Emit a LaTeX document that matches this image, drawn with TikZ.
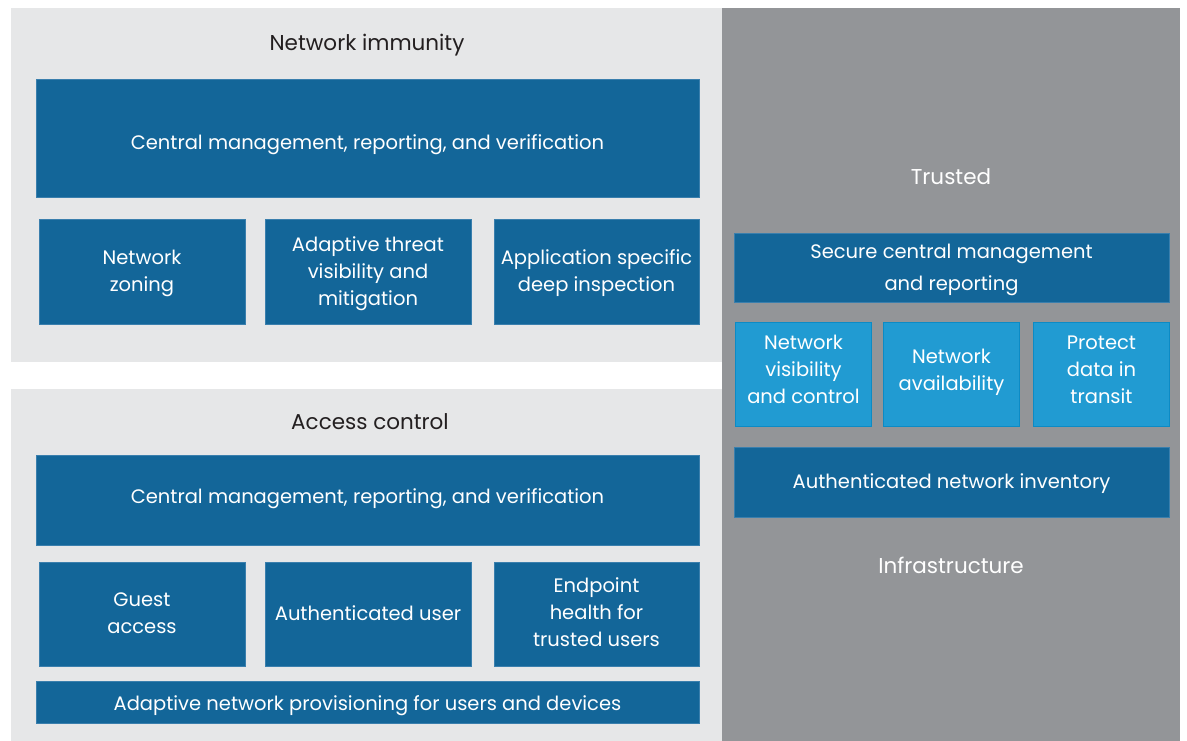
\documentclass[tikz,border=0pt]{standalone}
\usepackage{fontspec}
\setmainfont{Poppins}
\definecolor{panelL}{HTML}{E6E7E8}
\definecolor{panelD}{HTML}{939598}
\definecolor{dblue}{HTML}{136699}
\definecolor{dblueB}{HTML}{3A7FAD}
\definecolor{lblue}{HTML}{219BD2}
\definecolor{lblueB}{HTML}{0C8BC5}
\definecolor{ink}{HTML}{231F20}
\begin{document}
\begin{tikzpicture}[x=1pt,y=-1pt,
  panel/.style={draw=none,inner sep=0pt,outer sep=0pt},
  txt/.style={font=\fontsize{19.5}{27}\selectfont,align=center,inner sep=0pt},
  bbox/.style={txt,fill=dblue,draw=dblueB,line width=0.6pt,text=white},
  lbox/.style={txt,fill=lblue,draw=lblueB,line width=1.2pt,text=white},
  title/.style={font=\fontsize{21.5}{26}\selectfont,inner sep=0pt}]
\useasboundingbox (0,0) rectangle (1187,741);
\fill[white] (0,0) rectangle (1187,741);
% panels
\node[panel,fill=panelL,minimum width=711,minimum height=354] (pni) at (366.5,185) {};
\node[panel,fill=panelL,minimum width=711,minimum height=352] (pac) at (366.5,565) {};
\node[panel,fill=panelD,minimum width=458,minimum height=733] (ptr) at (951,374.5) {};
% titles
\node[title,text=ink] (tni) at (367,45) {Network immunity};
\node[title,text=ink] (tac) at (370,422) {Access control};
\node[title,text=white] (ttr) at (951,177) {Trusted};
\node[title,text=white] (tin) at (951,565) {Infrastructure};
% text nodes sit on boxes
\tikzset{lab/.style={txt,text=white,yshift=-2pt}}
% network immunity
\node[bbox,minimum width=663,minimum height=118] (cm1) at (367.5,138) {};
\node[lab,yshift=-5pt] at (cm1) {Central management, reporting, and verification};
\node[bbox,minimum width=206,minimum height=105] (nz) at (142,271.5) {};
\node[lab] at (nz) {Network\\zoning};
\node[bbox,minimum width=206,minimum height=105] (atv) at (368,271.5) {};
\node[lab] at (atv) {Adaptive threat\\visibility and\\mitigation};
\node[bbox,minimum width=205,minimum height=105] (asd) at (596.5,271.5) {};
\node[lab] at (asd) {Application specific\\deep inspection};
% access control
\node[bbox,minimum width=663,minimum height=90] (cm2) at (367.5,500) {};
\node[lab,yshift=3pt] at (cm2) {Central management, reporting, and verification};
\node[bbox,minimum width=206,minimum height=104] (ga) at (142,614) {};
\node[lab,yshift=3pt] at (ga) {Guest\\access};
\node[bbox,minimum width=206,minimum height=104] (au) at (368,614) {};
\node[lab,yshift=3pt] at (au) {Authenticated user};
\node[bbox,minimum width=205,minimum height=104] (eh) at (596.5,614) {};
\node[lab,yshift=4pt] at (eh) {Endpoint\\health for\\trusted users};
\node[bbox,minimum width=663,minimum height=42] (anp) at (367.5,702) {};
\node[lab,yshift=-2pt] at (anp) {Adaptive network provisioning for users and devices};
% trusted infrastructure
\node[bbox,minimum width=435,minimum height=69] (scm) at (951.5,267.5) {};
\node[lab,font=\fontsize{19.5}{32}\selectfont] at (scm) {Secure central management\\and reporting};
\node[lbox,minimum width=136,minimum height=104] (nvc) at (803.5,374.5) {};
\node[lab,yshift=7pt] at (nvc) {Network\\visibility\\and control};
\node[lbox,minimum width=136,minimum height=104] (nav) at (951.5,374.5) {};
\node[lab,yshift=4pt] at (nav) {Network\\availability};
\node[lbox,minimum width=136,minimum height=104] (pdt) at (1101.5,374.5) {};
\node[lab,yshift=7pt] at (pdt) {Protect\\data in\\transit};
\node[bbox,minimum width=435,minimum height=70] (ani) at (951.5,482) {};
\node[lab] at (ani) {Authenticated network inventory};
\end{tikzpicture}
\end{document}
